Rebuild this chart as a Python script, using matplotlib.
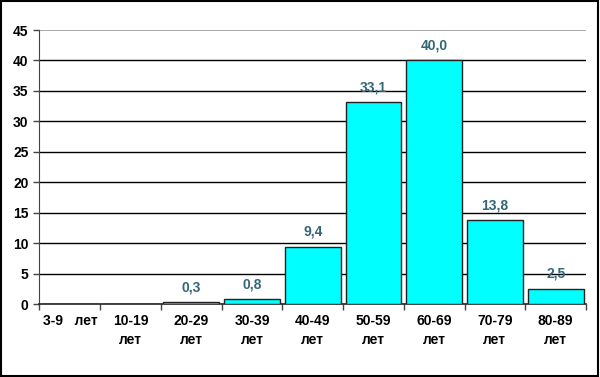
import numpy as np
import matplotlib.pyplot as plt

plt.rcParams['font.family'] = ['Liberation Sans', 'DejaVu Sans']

categories = ['3-9   лет', '10-19\nлет', '20-29\nлет', '30-39\nлет', '40-49\nлет',
              '50-59\nлет', '60-69\nлет', '70-79\nлет', '80-89\nлет']
values = [0, 0, 0.3, 0.8, 9.4, 33.1, 40.0, 13.8, 2.5]
labels = ['', '', '0,3', '0,8', '9,4', '33,1', '40,0', '13,8', '2,5']

fig = plt.figure(figsize=(6, 3.77), dpi=100)
ax = fig.add_axes([39.5 / 600, 1 - 304 / 377, (586 - 39.5) / 600, (304 - 30) / 377])

x = np.arange(len(values))
ax.bar(x, values, width=0.92, color='#00ffff', edgecolor='#222222', linewidth=1.0, zorder=3)

ax.set_xlim(-0.5, len(values) - 0.5)
ax.set_ylim(0, 45)
ax.set_yticks(range(0, 46, 5))
for t in range(5, 45, 5):
    ax.axhline(t, color='black', linewidth=1.0, zorder=1)
ax.axhline(45, color='#999999', linewidth=1.2, zorder=1)

for xi, v, lab in zip(x, values, labels):
    if lab:
        ax.text(xi, v + 1.3, lab, ha='center', va='bottom', fontsize=10,
                fontweight='bold', color='#336677', zorder=4)

# ticks at category boundaries, labels at centres
ax.set_xticks(np.arange(-0.5, len(values), 1.0))
ax.set_xticklabels([])
ax.set_xticks(x, minor=True)
ax.set_xticklabels(categories, minor=True, fontsize=10, fontweight='bold',
                   linespacing=1.5)
ax.tick_params(axis='x', which='minor', length=0, pad=7)
ax.tick_params(axis='x', which='major', length=4, direction='out', width=1, color='#444444')
ax.tick_params(axis='y', length=4, width=1, pad=4, labelsize=10, color='#444444')
for lab in ax.get_yticklabels():
    lab.set_fontweight('bold')

for s in ['top', 'right']:
    ax.spines[s].set_visible(False)
ax.spines['left'].set_color('#444444')
ax.spines['bottom'].set_color('#222222')
ax.spines['bottom'].set_linewidth(1.2)

fig.patches.append(plt.Rectangle((0.002, 0.003), 0.995, 0.994, transform=fig.transFigure,
                                 fill=False, edgecolor='black', linewidth=1.5))

fig.savefig('out.png', dpi=100)
